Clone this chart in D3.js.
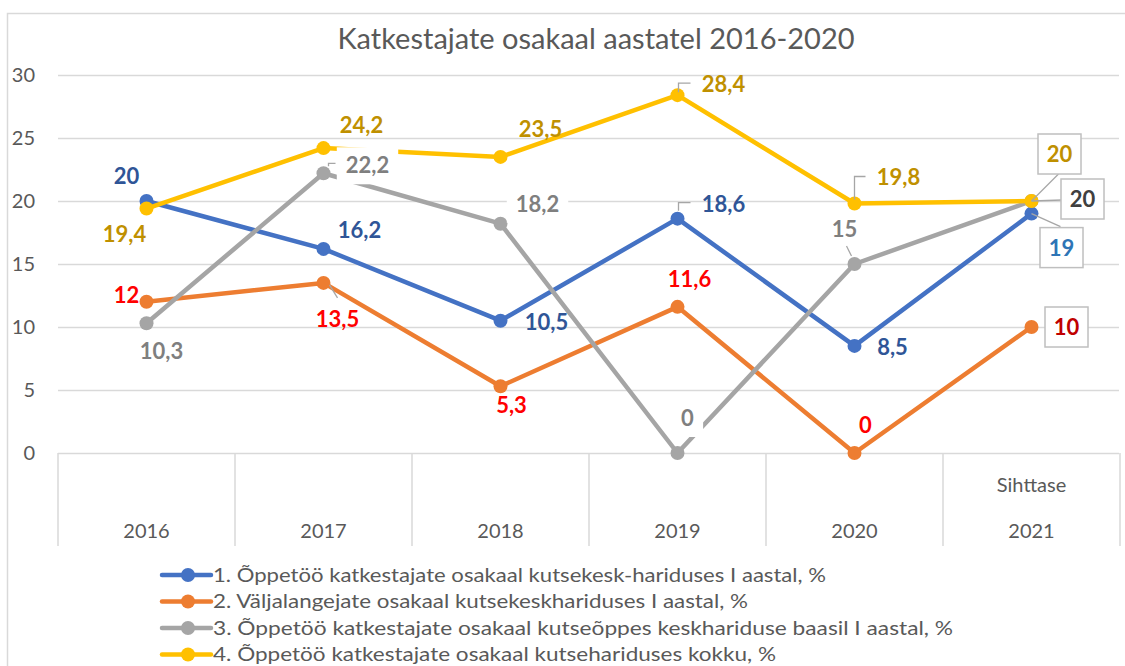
<!DOCTYPE html>
<html>
<head>
<meta charset="utf-8">
<script src="https://cdn.jsdelivr.net/npm/d3@7"></script>
<style>
  body { margin: 0; background: #fff; }
  svg { display: block; font-family: Lato, "Open Sans", sans-serif; }
</style>
</head>
<body>
<div id="chart"></div>
<script>
// Chart data
const title = "Katkestajate osakaal aastatel 2016-2020";
const years = ["2016", "2017", "2018", "2019", "2020", "2021"];
const subLabels = ["", "", "", "", "", "Sihttase"];
const yTicks = [0, 5, 10, 15, 20, 25, 30];
const seriesNames = [
    "1. Õppetöö katkestajate osakaal kutsekesk-hariduses I aastal, %",
    "2. Väljalangejate osakaal kutsekeskhariduses I aastal, %",
    "3. Õppetöö katkestajate  osakaal kutseõppes keskhariduse baasil I aastal, %",
    "4. Õppetöö katkestajate osakaal kutsehariduses kokku, %"
];
const blueValues = [20, 16.2, 10.5, 18.6, 8.5, 19];
const orangeValues = [12, 13.5, 5.3, 11.6, 0, 10];
const grayValues = [10.3, 22.2, 18.2, 0, 15, 20];
const yellowValues = [19.4, 24.2, 23.5, 28.4, 19.8, 20];

// Styles
const lineColors = ["#4472C4", "#ED7D31", "#A5A5A5", "#FFC000"];
const labelColors = ["#2F5597", "#FF0000", "#7F7F7F", "#BF9000"];
const boxColors = ["#2E75B6", "#C00000", "#404040", "#BF9000"];
const gridColor = "#D9D9D9";
const textColor = "#595959";

// label placement per series: [dx, dy] of label centre / baseline from its point
const labelOffsets = [
    [[-20, -17], [36, -11], [46, 9], [46, -7], [38, 9]],
    [[-20, 1], [14, 44], [11, 27], [12, -20], [11, -20]],
    [[15, 36], [44, 0], [37, -12], [10, -27], [-10, -27]],
    [[-22, 33], [38, -15], [40, -20], [46, -3], [44, -19]]
];
const labelBackground = [
    [false, false, false, false, false],
    [false, false, false, false, false],
    [false, true, true, true, false],
    [false, false, false, false, false]
];
// leader lines: series, point index, relative polyline
const leaders = [
    [0, 3, [[1, -8], [1, -16], [13, -16]]],
    [3, 3, [[1, -3], [1, -12], [13, -12]]],
    [3, 4, [[0, -4], [0, -27], [11, -27]]],
    [2, 1, [[5, -7], [5, -10], [12, -10]]],
    [1, 1, [[6, 2], [14, 15]]],
    [2, 4, [[-8, -18], [-3, -8]]],
    [3, 5, [[0, 0], [27, -27]]],
    [2, 5, [[0, 0], [31, -1]]],
    [0, 5, [[0, 0], [29, 13]]]
];
// boxed labels on the last point: centre offset from point
const boxOffsets = [[30, 34], [35, 0], [51, -2], [28, -47]];

const allSeries = [blueValues, orangeValues, grayValues, yellowValues];

const width = 1125, height = 666;
const plot = { left: 58, right: 1120, top: 75, bottom: 453 };

const svg = d3.select("#chart").append("svg")
    .attr("width", width)
    .attr("height", height);

// chart border
svg.append("rect")
    .attr("x", 7.5).attr("y", 13.5)
    .attr("width", 1140).attr("height", 700)
    .attr("fill", "none")
    .attr("stroke", gridColor)
    .attr("stroke-width", 1.5);

const x = d3.scaleBand().domain(years).range([plot.left, plot.right]).padding(0);
const y = d3.scaleLinear().domain([0, 30]).range([plot.bottom, plot.top]);
const cx = d => x(d) + x.bandwidth() / 2;

// title
svg.append("text")
    .attr("x", 596).attr("y", 49)
    .attr("text-anchor", "middle")
    .attr("fill", textColor)
    .style("font-size", "29px")
    .text(title);

// y axis with gridlines
const yAxis = svg.append("g")
    .attr("transform", `translate(${plot.left},0)`)
    .call(d3.axisLeft(y).tickValues(yTicks).tickSize(-(plot.right - 1 - plot.left)).tickPadding(23));
yAxis.select(".domain").remove();
yAxis.selectAll(".tick line").attr("stroke", gridColor).attr("stroke-width", 1.5);
yAxis.selectAll(".tick text")
    .attr("fill", textColor)
    .style("font-size", "20px")
    .style("font-family", "Lato, sans-serif");

// category separators
const bounds = years.map(d => x(d)).concat([plot.right]);
svg.append("g").selectAll("line")
    .data(bounds)
    .join("line")
    .attr("x1", d => d).attr("x2", d => d)
    .attr("y1", plot.bottom).attr("y2", 546)
    .attr("stroke", gridColor)
    .attr("stroke-width", 1.5);

// two-level category labels
const xAxis = svg.append("g")
    .attr("transform", `translate(0,538)`)
    .call(d3.axisBottom(x).tickSize(0).tickPadding(0));
xAxis.select(".domain").remove();
xAxis.selectAll(".tick text")
    .attr("dy", 0)
    .attr("fill", textColor)
    .style("font-size", "20px")
    .style("font-family", "Lato, sans-serif");

svg.append("g").selectAll("text")
    .data(years)
    .join("text")
    .attr("x", d => cx(d))
    .attr("y", 492)
    .attr("text-anchor", "middle")
    .attr("fill", textColor)
    .style("font-size", "20px")
    .text((d, i) => subLabels[i]);

// lines + markers
const line = d3.line()
    .x((d, i) => cx(years[i]))
    .y(d => y(d));

allSeries.forEach((vals, s) => {
    const g = svg.append("g");
    g.append("path")
        .datum(vals)
        .attr("d", line)
        .attr("fill", "none")
        .attr("stroke", lineColors[s])
        .attr("stroke-width", 4.5)
        .attr("stroke-linejoin", "round")
        .attr("stroke-linecap", "round");
    g.selectAll("circle")
        .data(vals)
        .join("circle")
        .attr("cx", (d, i) => cx(years[i]))
        .attr("cy", d => y(d))
        .attr("r", 7)
        .attr("fill", lineColors[s]);
});

// leader lines
const leaderLine = d3.line();
leaders.forEach(([s, i, pts]) => {
    const px = cx(years[i]), py = y(allSeries[s][i]);
    svg.append("path")
        .attr("d", leaderLine(pts.map(p => [px + p[0], py + p[1]])))
        .attr("fill", "none")
        .attr("stroke", "#A6A6A6")
        .attr("stroke-width", 1.3);
});

const fmt = v => String(v).replace(".", ",");

// data labels
const labelLayer = svg.append("g");
allSeries.forEach((vals, s) => {
    vals.forEach((v, i) => {
        const px = cx(years[i]), py = y(v);
        if (i === years.length - 1) {
            const [bx, by] = boxOffsets[s];
            labelLayer.append("rect")
                .attr("x", px + bx - 21.5).attr("y", py + by - 20)
                .attr("width", 43).attr("height", 40)
                .attr("fill", "#fff")
                .attr("stroke", "#BFBFBF")
                .attr("stroke-width", 1.5);
            labelLayer.append("text")
                .attr("x", px + bx).attr("y", py + by + 8)
                .attr("text-anchor", "middle")
                .attr("fill", boxColors[s])
                .style("font-size", "22px")
                .style("font-weight", "bold")
                .text(fmt(v));
            return;
        }
        const [dx, dy] = labelOffsets[s][i];
        const bg = labelLayer.append("rect").attr("fill", "#fff");
        const t = labelLayer.append("text")
            .attr("x", px + dx).attr("y", py + dy)
            .attr("text-anchor", "middle")
            .attr("fill", labelColors[s])
            .style("font-size", "22px")
            .style("font-weight", "bold")
            .text(fmt(v));
        if (labelBackground[s][i]) {
            const b = t.node().getBBox();
            bg.attr("x", b.x - 9).attr("y", b.y - 4)
                .attr("width", b.width + 18).attr("height", b.height + 10);
        } else {
            bg.remove();
        }
    });
});

// legend
const legendRows = [575, 601.5, 628, 654.5];
const legendWidths = [613, 535, 740, 563];
const legend = svg.append("g");
seriesNames.forEach((name, s) => {
    const ly = legendRows[s];
    legend.append("line")
        .attr("x1", 162).attr("x2", 211)
        .attr("y1", ly).attr("y2", ly)
        .attr("stroke", lineColors[s])
        .attr("stroke-width", 4.5)
        .attr("stroke-linecap", "round");
    legend.append("circle")
        .attr("cx", 188).attr("cy", ly)
        .attr("r", 7)
        .attr("fill", lineColors[s]);
    legend.append("text")
        .attr("x", 213).attr("y", ly + 6.5)
        .attr("fill", textColor)
        .attr("textLength", legendWidths[s])
        .attr("lengthAdjust", "spacingAndGlyphs")
        .style("font-size", "19px")
        .text(name);
});
</script>
</body>
</html>
